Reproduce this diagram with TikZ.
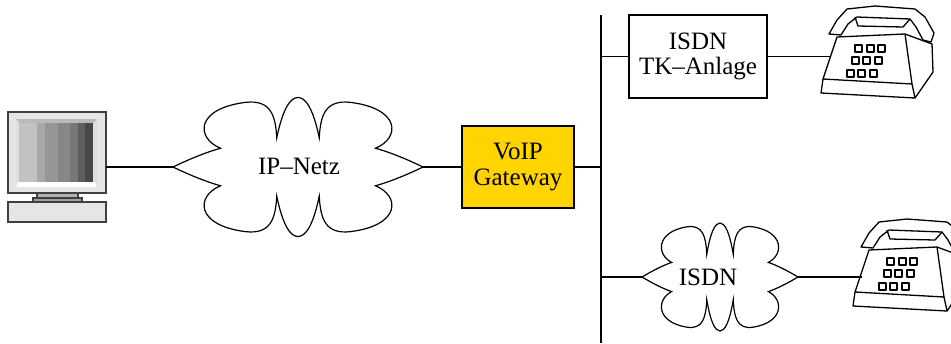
\documentclass[tikz,border=0pt]{standalone}
\usepackage{fontspec}
\setmainfont{Liberation Serif}

\definecolor{gwgelb}{RGB}{255,212,0}
\definecolor{rahmen}{RGB}{64,64,64}

\tikzset{
	kasten/.style={draw, line width=0.9pt, inner sep=0pt, align=center},
	leitung/.style={line width=0.8pt},
	pics/wolke/.style args={#1/#2}{code={
		\draw [line width=0.6pt, xscale=#1, yscale=#2]
		(-1,0) .. controls (-0.85,0.13) and (-0.72,0.22) .. (-0.62,0.27)
		.. controls (-0.82,0.42) and (-0.82,0.84) .. (-0.42,0.93)
		.. controls (-0.22,0.97) and (-0.18,0.75) .. (-0.17,0.42)
		.. controls (-0.12,0.85) and (-0.06,1) .. (0,1)
		.. controls (0.06,1) and (0.12,0.85) .. (0.17,0.42)
		.. controls (0.18,0.75) and (0.22,0.97) .. (0.42,0.93)
		.. controls (0.82,0.84) and (0.82,0.42) .. (0.62,0.27)
		.. controls (0.72,0.22) and (0.85,0.13) .. (1,0)
		.. controls (0.85,-0.13) and (0.72,-0.22) .. (0.62,-0.27)
		.. controls (0.82,-0.42) and (0.82,-0.84) .. (0.42,-0.93)
		.. controls (0.22,-0.97) and (0.18,-0.75) .. (0.17,-0.42)
		.. controls (0.12,-0.85) and (0.06,-1) .. (0,-1)
		.. controls (-0.06,-1) and (-0.12,-0.85) .. (-0.17,-0.42)
		.. controls (-0.18,-0.75) and (-0.22,-0.97) .. (-0.42,-0.93)
		.. controls (-0.82,-0.84) and (-0.82,-0.42) .. (-0.62,-0.27)
		.. controls (-0.72,-0.22) and (-0.85,-0.13) .. (-1,0) -- cycle;
		\coordinate (-w) at (-#1,0);
		\coordinate (-e) at (#1,0);
	}},
	pics/telefon/.style={code={
		\begin{scope}[line width=0.65pt, line join=round]
			% hoerer
			\draw (14,34) -- (22,20) -- (32,9) -- (60,6) -- (100,9) -- (110,17) -- (119,33) -- (116,42) -- (108,40) -- (101,27) -- (95,19) -- (42,17) -- (33,24) -- (26,35) -- cycle;
			\draw (40,17) -- (43,26) -- (88,27) -- (95,19);
			% gehaeuse
			\draw (22,37) -- (90,34) -- (97,84) -- (8,79) -- cycle;
			\draw (90,34) -- (117,44) -- (118,72) -- (100,98) -- (97,84);
			\draw (8,79) -- (6,93) -- (100,98);
			% tasten
			\foreach \tx/\ty in {40/45,52/45,63/45,37/57,48/57,60/57,32/70,43/70,55/70}
				\draw (\tx,\ty) rectangle ++(7,7);
		\end{scope}
		\coordinate (-in) at (15,57);
	}}
}

\begin{document}
\begin{tikzpicture}[x=0.5pt, y=-0.5pt, font=\fontsize{12.5}{12.8}\selectfont]
		\clip (0,0) rectangle (951,343);
		
		% rechner
		\draw [rahmen, fill=gray!20, line width=0.6pt] (8,112) rectangle (106,193);
		\fill [gray!25] (16,119) rectangle (97,187);
		\fill [gray!55] (16,119) -- (97,119) -- (93,123) -- (20,123) -- cycle;
		\foreach \sx/\sb/\sg in {19/37/24,37/45/34,45/58/41,58/70/47,70/78/53,78/85/63,85/93/72}
			\fill [black!\sg!white] (\sx,123) rectangle (\sb,182);
		\fill [white] (18,182) -- (95,182) -- (97,187) -- (16,187) -- cycle;
		\draw [rahmen, fill=gray!60, line width=0.6pt] (37,193) rectangle (78,198);
		\draw [rahmen, fill=gray!75, line width=0.6pt] (33,198) rectangle (82,202);
		\draw [rahmen, fill=gray!20, line width=0.6pt] (8,202) rectangle (106,222);
		\coordinate (pc) at (106,167);
		
		% netze und geraete
		\node (ipnetz) at (299,166) {IP--Netz};
		\pic (ipw) at (298,167) {wolke=125/69.5};
		\node [kasten, fill=gwgelb, minimum width=56pt, minimum height=41pt] (gw) at (518,167) {VoIP\\Gateway};
		\node [kasten, minimum width=69pt, minimum height=41.5pt] (tk) at (698,56.5) {ISDN\\TK--Anlage};
		\node (isdn) at (708,277) {ISDN};
		\pic (isdnw) at (720,277) {wolke=78/54};
		\pic (tel1) at (815,0) {telefon};
		\pic (tel2) at (847,213) {telefon};
		
		% bus
		\coordinate (busT) at (601,15);
		\coordinate (busB) at (601,343);
		\draw [line width=1pt] (busT) -- (busB);
		
		\draw [leitung] (pc) -- (ipw-w);
		\draw [leitung] (ipw-e) -- (gw.west);
		\draw [leitung] (gw.east) -- (gw.east -| busT);
		\draw [leitung] (busT |- tk.west) -- (tk.west);
		\draw [leitung] (tk.east) -- (tk.east -| tel1-in);
		\draw [leitung] (busT |- isdnw-w) -- (isdnw-w);
		\draw [leitung] (isdnw-e) -- (isdnw-e -| tel2-in);
	\end{tikzpicture}
\end{document}
